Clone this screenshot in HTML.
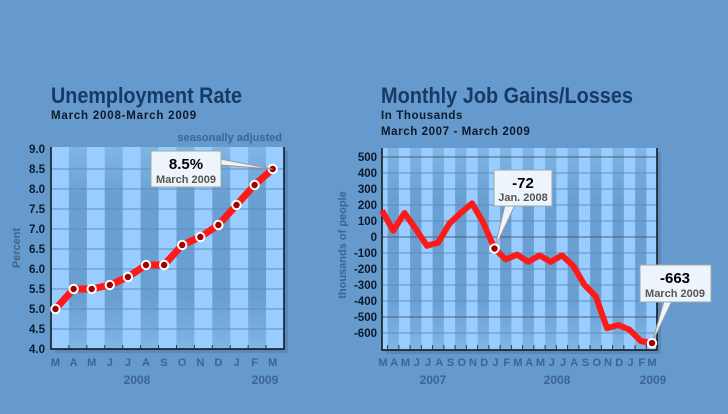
<!DOCTYPE html>
<html><head><meta charset="utf-8"><style>
html,body{margin:0;padding:0;background:#6699cc;}
svg{display:block;font-family:"Liberation Sans",sans-serif;}
</style></head><body>
<svg id="s" width="728" height="414" viewBox="0 0 728 414" xmlns="http://www.w3.org/2000/svg">
<defs>
<linearGradient id="dk" x1="0" y1="0" x2="0" y2="1">
<stop offset="0" stop-color="#80b6e6"/><stop offset="0.25" stop-color="#6a9fd2"/><stop offset="0.75" stop-color="#6a9fd2"/><stop offset="1" stop-color="#80b6e6"/></linearGradient>
</defs>
<rect width="728" height="414" fill="#6699cc"/>
<text x="51" y="103" font-size="22" font-weight="bold" fill="#163a66" textLength="191" lengthAdjust="spacingAndGlyphs">Unemployment Rate</text>
<text x="51" y="119" font-size="11.5" font-weight="bold" fill="#0d1a2a" letter-spacing="0.8">March 2008-March 2009</text>
<text x="282" y="141" font-size="11" font-weight="bold" fill="#3d6594" text-anchor="end">seasonally adjusted</text>
<text x="381" y="103" font-size="22" font-weight="bold" fill="#163a66" textLength="252" lengthAdjust="spacingAndGlyphs">Monthly Job Gains/Losses</text>
<text x="381" y="119" font-size="11.5" font-weight="bold" fill="#0d1a2a" letter-spacing="0.6">In Thousands</text>
<text x="381" y="135" font-size="11.5" font-weight="bold" fill="#0d1a2a" letter-spacing="0.6">March 2007 - March 2009</text>
<g id="g"></g>
</svg>
<script>
const NS="http://www.w3.org/2000/svg",g=document.getElementById('g');
function el(t,a,txt){const e=document.createElementNS(NS,t);for(const k in a)e.setAttribute(k,a[k]);if(txt!=null)e.textContent=txt;g.appendChild(e);return e;}
let L=51,R=284,T=147,B=349;
el('rect',{x:L+4,y:T+4,width:R-L,height:B-T,fill:'#5a88ba'});
el('rect',{x:L,y:T,width:R-L,height:B-T,fill:'#99ccff'});
let w=(R-L)/13;
for(let i=1;i<13;i+=2)el('rect',{x:L+i*w,y:T,width:w,height:B-T,fill:'url(#dk)'});
const yv=v=>349-(v-4)*40;
for(let v=4;v<=9.001;v+=0.5){let y=yv(v);if(v>4&&v<9)el('line',{x1:L,x2:R,y1:y,y2:y,stroke:'#5f8fc0','stroke-width':1});
el('text',{x:45,y:y+4,'font-size':11.5,'font-weight':'bold','text-anchor':'end',fill:'#0d1a2a'},v.toFixed(1));}
el('path',{d:`M${L} ${T}V${B}H${R}V${T}`,fill:'none',stroke:'#111','stroke-width':1.5});
el('text',{x:20,y:248,'font-size':11,'font-weight':'bold',fill:'#3d6594','text-anchor':'middle',transform:'rotate(-90 20 248)'},'Percent');
const m1="MAMJJASONDJFM";const d1=[5.0,5.5,5.5,5.6,5.8,6.1,6.1,6.6,6.8,7.1,7.6,8.1,8.5];
const x1=i=>55.5+i*18.1;
for(let i=0;i<13;i++){el('text',{x:x1(i),y:366,'font-size':11,'font-weight':'bold',fill:'#3d6594','text-anchor':'middle'},m1[i]);
if(i>0)el('line',{x1:L+i*w,x2:L+i*w,y1:B,y2:B-4,stroke:'#333'});}
el('text',{x:137,y:384,'font-size':12,'font-weight':'bold',fill:'#3d6594','text-anchor':'middle'},'2008');
el('text',{x:265,y:384,'font-size':12,'font-weight':'bold',fill:'#3d6594','text-anchor':'middle'},'2009');
let p=d1.map((v,i)=>x1(i)+','+yv(v)).join(' ');
el('polyline',{points:p,fill:'none',stroke:'#ff1a1a','stroke-width':7,'stroke-linejoin':'round'});
d1.forEach((v,i)=>el('circle',{cx:x1(i),cy:yv(v),r:4.2,fill:'#a00000',stroke:'#fff','stroke-width':2}));
el('polygon',{points:`220,159 ${x1(12)},${yv(8.5)} 220,165`,fill:'#eef4fb',stroke:'#999'});
el('rect',{x:151,y:151,width:70,height:36,fill:'#eef4fb',stroke:'#9aa'});
el('text',{x:186,y:169,'font-size':15,'font-weight':'bold','text-anchor':'middle',fill:'#000'},'8.5%');
el('text',{x:186,y:183,'font-size':11,'font-weight':'bold','text-anchor':'middle',fill:'#555'},'March 2009');
L=382;R=657;T=148;B=350;
el('rect',{x:L+4,y:T+4,width:R-L,height:B-T,fill:'#5a88ba'});
el('rect',{x:L,y:T,width:R-L,height:B-T,fill:'#99ccff'});
w=11.25;
for(let i=0;i<26;i++){let x=L-w/2+i*w; if(i%2==1)el('rect',{x:Math.max(L,x),y:T,width:Math.min(w,R-x),height:B-T,fill:'url(#dk)'});}
const yj=v=>237-v*0.16;
for(let v=500;v>=-600;v-=100){let y=yj(v);let major=(v==500||v==0||v==-500);
el('line',{x1:L,x2:R,y1:y,y2:y,stroke:major?'#4a5f78':'#5f8fc0','stroke-width':1});
el('text',{x:377,y:y+4,'font-size':11.5,'font-weight':'bold','text-anchor':'end',fill:'#0d1a2a'},String(v));}
el('path',{d:`M${L} ${T}V${B}H${R}V${T}`,fill:'none',stroke:'#111','stroke-width':1.5});
el('text',{x:346,y:245,'font-size':11,'font-weight':'bold',fill:'#3d6594','text-anchor':'middle',transform:'rotate(-90 346 245)'},'thousands of people');
const m2="MAMJJASONDJFMAMJJASONDJFM";
const d2=[165,40,150,50,-55,-35,85,150,210,90,-72,-140,-110,-155,-115,-155,-115,-180,-300,-370,-570,-550,-580,-650,-663];
const x2=i=>382+i*11.25;
for(let i=0;i<25;i++){el('text',{x:Math.min(x2(i)+1,652),y:366,'font-size':11,'font-weight':'bold',fill:'#3d6594','text-anchor':'middle'},m2[i]);
el('line',{x1:x2(i)+5.6,x2:x2(i)+5.6,y1:B,y2:B-5,stroke:'#333'});}
el('text',{x:433,y:384,'font-size':12,'font-weight':'bold',fill:'#3d6594','text-anchor':'middle'},'2007');
el('text',{x:557,y:384,'font-size':12,'font-weight':'bold',fill:'#3d6594','text-anchor':'middle'},'2008');
el('text',{x:653,y:384,'font-size':12,'font-weight':'bold',fill:'#3d6594','text-anchor':'middle'},'2009');
p=d2.map((v,i)=>x2(i)+','+yj(v)).join(' ');
el('polyline',{points:p,fill:'none',stroke:'#ff1a1a','stroke-width':6,'stroke-linejoin':'round'});
el('polygon',{points:`505,205 ${x2(10)},${yj(-72)} 515,205`,fill:'#eef4fb',stroke:'#999'});
el('rect',{x:494,y:170,width:58,height:36,fill:'#eef4fb',stroke:'#9aa'});
el('text',{x:523,y:188,'font-size':15,'font-weight':'bold','text-anchor':'middle',fill:'#000'},'-72');
el('text',{x:523,y:201,'font-size':11,'font-weight':'bold','text-anchor':'middle',fill:'#555'},'Jan. 2008');
el('polygon',{points:`664,301 ${x2(24)},${yj(-663)} 672,301`,fill:'#eef4fb',stroke:'#999'});
el('rect',{x:640,y:265,width:71,height:37,fill:'#eef4fb',stroke:'#9aa'});
el('text',{x:675,y:283,'font-size':15,'font-weight':'bold','text-anchor':'middle',fill:'#000'},'-663');
el('text',{x:675,y:297,'font-size':11,'font-weight':'bold','text-anchor':'middle',fill:'#555'},'March 2009');
[10,24].forEach(i=>el('circle',{cx:x2(i),cy:yj(d2[i]),r:4.2,fill:'#a00000',stroke:'#fff','stroke-width':2}));
</script>
</body></html>
